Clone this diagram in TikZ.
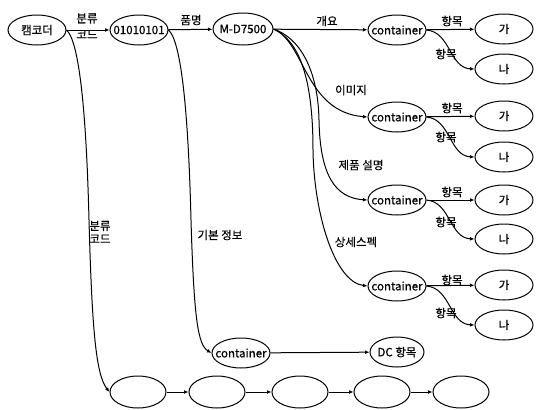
\documentclass[tikz,border=0pt]{standalone}
\usepackage{fontspec}
\setmainfont[FakeBold=0.6]{Noto Sans CJK KR}
\usetikzlibrary{shapes.geometric, arrows.meta}
\newcommand\ovaltext[1]{\makebox[0pt]{#1}}
\begin{document}
\begin{tikzpicture}[x=1pt, y=-1pt,
  oval/.style={ellipse, draw, line width=1pt, minimum width=58pt,
    minimum height=30pt, inner sep=0pt, font=\fontsize{11.5}{13}\selectfont},
  link/.style={draw, line width=1pt, -{Latex[length=4.5pt,width=3.8pt]}},
  tag/.style={inner sep=0pt, font=\fontsize{11.5}{13}\selectfont, align=center}]
\useasboundingbox (0,0) rectangle (536,410);

% top row
\node[oval] (cam)   at (37,30)  {\ovaltext{캠코더}};
\node[oval] (code)  at (139,30) {\ovaltext{01010101}};
\node[oval, minimum width=60pt, minimum height=32pt] (model) at (243,29) {\ovaltext{M-D7500}};

% four containers with their items
\node[oval] (c1) at (397,30)  {\ovaltext{container}};
\node[oval] (g1) at (504,29)  {\ovaltext{가}};
\node[oval] (n1) at (504,69)  {\ovaltext{나}};
\node[oval] (c2) at (397,117) {\ovaltext{container}};
\node[oval] (g2) at (504,116) {\ovaltext{가}};
\node[oval] (n2) at (504,157) {\ovaltext{나}};
\node[oval] (c3) at (397,200) {\ovaltext{container}};
\node[oval] (g3) at (504,200) {\ovaltext{가}};
\node[oval] (n3) at (504,239) {\ovaltext{나}};
\node[oval] (c4) at (397,286) {\ovaltext{container}};
\node[oval] (g4) at (504,285) {\ovaltext{가}};
\node[oval] (n4) at (504,325) {\ovaltext{나}};

% basic information
\node[oval] (c5) at (241,353) {\ovaltext{container}};
\node[oval, minimum width=54pt] (dc) at (397,352) {\ovaltext{DC 항목}};

% bottom chain
\node[oval, minimum width=56pt, minimum height=32pt] (b1) at (138,392) {};
\node[oval, minimum width=56pt, minimum height=32pt] (b2) at (217,392) {};
\node[oval, minimum width=56pt, minimum height=32pt] (b3) at (300,392) {};
\node[oval, minimum width=56pt, minimum height=32pt] (b4) at (382,392) {};
\node[oval, minimum width=56pt, minimum height=32pt] (b5) at (461,392) {};

% straight connectors
\draw[link] (cam) -- (code);
\draw[link] (code) -- (model);
\draw[link] (model) -- (c1);
\draw[link] (c5) -- (dc);
\foreach \a/\b in {b1/b2, b2/b3, b3/b4, b4/b5}
  \draw[link] (\a) -- (\b);

% container -> items
\foreach \c/\g/\n in {c1/g1/n1, c2/g2/n2, c3/g3/n3, c4/g4/n4} {
  \draw[link] (\c) -- (\g);
  \draw[link] (\c.east) .. controls +(24,2) and +(-25,-1) .. (\n.west);
}

% long curved connectors
\draw[link] (cam.east) .. controls (78,40) and (86,100) .. (89,220)
  .. controls (92,330) and (96,375) .. (b1.west);
\draw[link] (code.east) .. controls (180,40) and (188,100) .. (191,220)
  .. controls (194,320) and (198,345) .. (c5.west);
\draw[link] (model.east) .. controls (305,42) and (305,112) .. (c2.west);
\draw[link] (model.east) .. controls (300,38) and (318,70) .. (319,120)
  .. controls (320,175) and (335,198) .. (c3.west);
\draw[link] (model.east) .. controls (298,40) and (313,75) .. (313,150)
  .. controls (314,215) and (335,282) .. (c4.west);

% labels
\node[tag] (l1) at (87,26) {분류\\[3pt]코드};
\node[tag] (l2) at (191,20) {품명};
\node[tag] (l3) at (327,21) {개요};
\node[tag] (l4) at (351,90) {이미지};
\node[tag] (l5) at (361,165) {제품 설명};
\node[tag] (l6) at (356,242) {상세스펙};
\node[tag] (l7) at (100,232) {분류\\코드};
\node[tag] (l8) at (220,235) {기본 정보};
\foreach \y/\z in {21/54, 108/137, 192/222, 280/313} {
  \node[tag] at (452,\y) {항목};
  \node[tag] at (446,\z) {항목};
}
\end{tikzpicture}
\end{document}
